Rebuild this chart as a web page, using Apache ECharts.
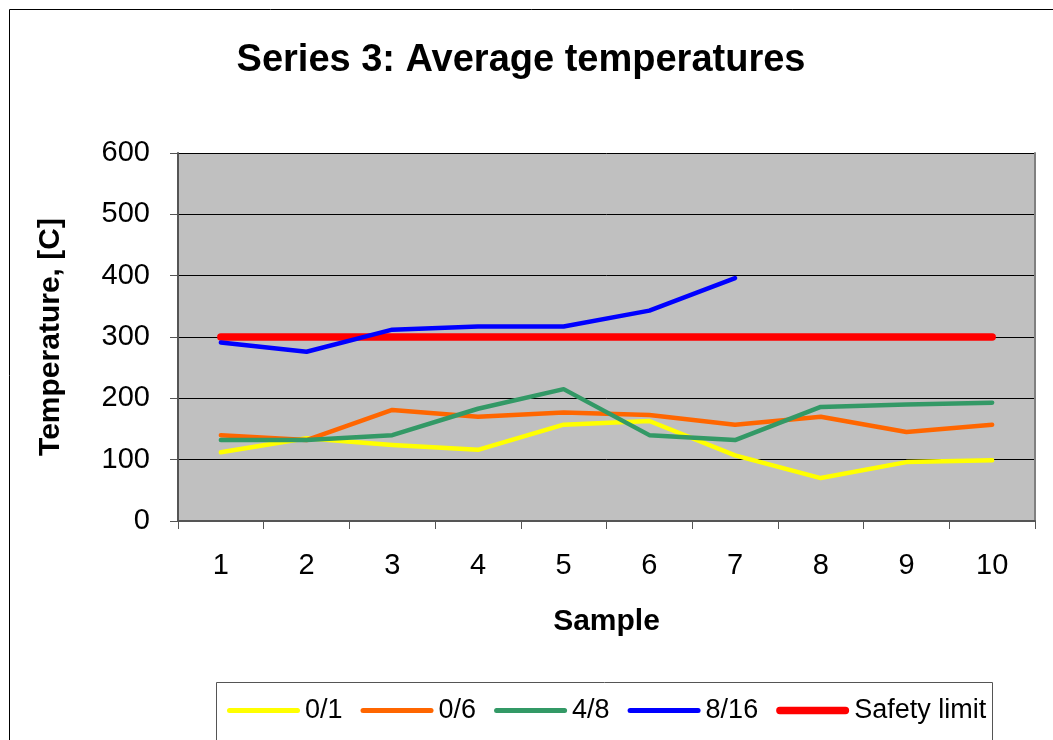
<!DOCTYPE html>
<html>
<head>
<meta charset="utf-8">
<script src="https://cdn.jsdelivr.net/npm/echarts@6/dist/echarts.min.js"></script>
<style>
html,body{margin:0;padding:0;background:#fff;}
#c{width:1053px;height:740px;}
</style>
</head>
<body>
<div id="c"></div>
<script>
const categories = ['1','2','3','4','5','6','7','8','9','10'];
const s01 = [112, 135, 124, 116, 157, 163, 107, 70, 96, 99];
const s06 = [140, 132, 181, 170, 177, 173, 157, 170, 145, 157];
const s48 = [132, 132, 140, 183, 215, 140, 132, 186, 190, 193];
const s816 = [291, 276, 312, 317, 317, 343, 396, null, null, null];
const safety = [300, 300, 300, 300, 300, 300, 300, 300, 300, 300];
const seriesNames = ['0/1', '0/6', '4/8', '8/16', 'Safety limit'];
const yTicks = [0, 100, 200, 300, 400, 500, 600];

const FONT = '"Liberation Sans", Arial, sans-serif';
const chart = echarts.init(document.getElementById('c'), null, {renderer: 'canvas'});

const thinIcon = 'path://M2.5,0 H70.5 A2.5,2.5 0 0 1 70.5,5 H2.5 A2.5,2.5 0 0 1 2.5,0 Z';
const thickIcon = 'path://M3.75,0 H70.25 A3.75,3.75 0 0 1 70.25,7.5 H3.75 A3.75,3.75 0 0 1 3.75,0 Z';

function mk(name, data, color, width) {
  return {
    name: name, type: 'line', data: data, symbol: 'none', showSymbol: false,
    lineStyle: {color: color, width: width, cap: 'round', join: 'round'},
    itemStyle: {color: color},
    connectNulls: false, animation: false, z: 3
  };
}

chart.setOption({
  animation: false,
  backgroundColor: '#ffffff',
  graphic: [
    {type: 'rect', shape: {x: 9.5, y: 9.5, width: 1100, height: 800}, style: {fill: 'none', stroke: '#000', lineWidth: 1}, z: 0},
    {type: 'rect', shape: {x: 216.5, y: 682.5, width: 776, height: 80}, style: {fill: '#fff', stroke: '#555', lineWidth: 1}, z: 1}
  ],
  title: {
    text: 'Series 3: Average temperatures',
    left: 516, top: 37, textAlign: 'center',
    textStyle: {fontFamily: FONT, fontSize: 38, fontWeight: 'bold', color: '#000'}
  },
  legend: {
    data: seriesNames.map(function (n, i) { return {name: n, icon: i === 4 ? thickIcon : thinIcon}; }),
    left: 227, top: 697, padding: 0,
    itemWidth: 73, itemHeight: 14, itemGap: 18, symbolKeepAspect: true,
    textStyle: {fontFamily: FONT, fontSize: 27, color: '#000'},
    z: 5
  },
  grid: {left: 178, right: 18, top: 153, bottom: 219, containLabel: false,
         show: true, backgroundColor: '#c0c0c0', borderWidth: 0},
  xAxis: {
    type: 'category', data: categories, boundaryGap: true,
    name: 'Sample', nameLocation: 'middle', nameGap: 86,
    nameTextStyle: {fontFamily: FONT, fontSize: 30, fontWeight: 'bold', color: '#000'},
    axisLine: {show: true, lineStyle: {color: '#555', width: 2}},
    axisTick: {show: true, length: 8, alignWithLabel: false, lineStyle: {color: '#555', width: 1}},
    axisLabel: {fontFamily: FONT, fontSize: 29, color: '#000', margin: 30},
    splitLine: {show: false}
  },
  yAxis: [{
    type: 'value', min: 0, max: 600, interval: 100,
    name: 'Temperature, [C]', nameLocation: 'middle', nameGap: 112, nameRotate: 90,
    nameTextStyle: {fontFamily: FONT, fontSize: 30, fontWeight: 'bold', color: '#000'},
    axisLine: {show: true, lineStyle: {color: '#555', width: 2}},
    axisTick: {show: true, length: 8, lineStyle: {color: '#555', width: 1}},
    axisLabel: {fontFamily: FONT, fontSize: 29, color: '#000', margin: 28,
                formatter: function (v) { return yTicks.indexOf(v) >= 0 ? String(v) : ''; }},
    splitLine: {show: true, lineStyle: {color: '#000', width: 1}}
  }, {
    type: 'value', min: 0, max: 600, interval: 100, position: 'right',
    axisLine: {show: true, lineStyle: {color: '#808080', width: 2}},
    axisTick: {show: false}, axisLabel: {show: false}, splitLine: {show: false}
  }],
  series: [
    mk(seriesNames[0], s01, '#ffff00', 4.5),
    mk(seriesNames[1], s06, '#ff6600', 4.5),
    mk(seriesNames[2], s48, '#339966', 4.5),
    mk(seriesNames[3], s816, '#0000ff', 4.5),
    Object.assign(mk(seriesNames[4], safety, '#ff0000', 7.5), {z: 2})
  ]
});
</script>
</body>
</html>
